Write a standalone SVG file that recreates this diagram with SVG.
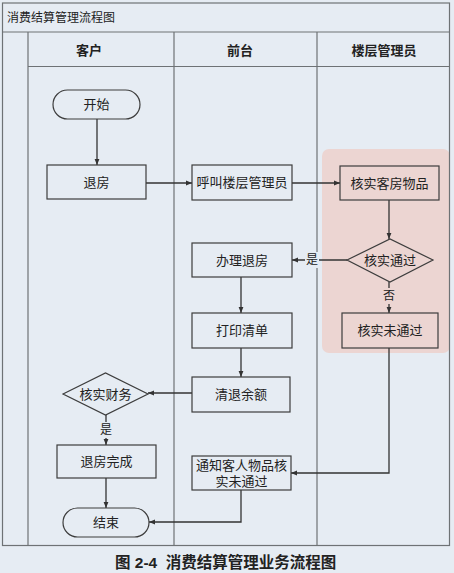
<svg xmlns="http://www.w3.org/2000/svg" width="454" height="573" viewBox="0 0 454 573">
<style>
text{font-family:"Liberation Sans","Noto Sans CJK SC",sans-serif;fill:#222;}
.frame{fill:none;stroke:#6e7275;stroke-width:1.2;}
.box{fill:none;stroke:#3d3d3d;stroke-width:1.2;}
.lbl{font-size:13px;text-anchor:middle;dominant-baseline:central;}
.hdr{font-size:13px;text-anchor:middle;dominant-baseline:central;font-weight:bold;}
.con{fill:none;stroke:#333;stroke-width:1.3;marker-end:url(#ah);}
.yn{font-size:12px;text-anchor:middle;dominant-baseline:central;}
</style>
<defs>
<marker id="ah" viewBox="0 0 10 10" refX="10" refY="5" markerWidth="6" markerHeight="6" markerUnits="userSpaceOnUse" orient="auto">
<path d="M0,1 L10,5 L0,9 z" fill="#333"/>
</marker>
</defs>
<rect x="0" y="0" width="454" height="573" fill="#e6ecf3"/>
<g id="pool">
<rect x="322" y="149" width="128" height="204" rx="7" fill="#ecd5d2"/>
<rect class="frame" x="2.5" y="3" width="447" height="542.5"/>
<line class="frame" x1="2.5" y1="32" x2="449.5" y2="32"/>
<line class="frame" x1="28" y1="32" x2="28" y2="545.5"/>
<line class="frame" x1="28" y1="66.5" x2="449.5" y2="66.5"/>
<line class="frame" x1="174" y1="32" x2="174" y2="545.5"/>
<line class="frame" x1="317" y1="32" x2="317" y2="545.5"/>
<text x="7" y="17.5" style="font-size:12px;dominant-baseline:central;">消费结算管理流程图</text>
<text class="hdr" x="89" y="50">客户</text>
<text class="hdr" x="240" y="50">前台</text>
<text class="hdr" x="384" y="50">楼层管理员</text>
</g>
<g id="connectors">
<line class="con" x1="97" y1="119" x2="97" y2="165"/>
<line class="con" x1="146" y1="183" x2="192" y2="183"/>
<line class="con" x1="292" y1="183" x2="340" y2="183"/>
<line class="con" x1="389" y1="200" x2="389" y2="239"/>
<line class="con" x1="347" y1="260" x2="292" y2="260"/>
<line class="con" x1="389" y1="282" x2="389" y2="313"/>
<line class="con" x1="241" y1="277" x2="241" y2="313"/>
<line class="con" x1="241" y1="348" x2="241" y2="377"/>
<line class="con" x1="192" y1="393" x2="148" y2="393"/>
<line class="con" x1="106" y1="415" x2="106" y2="445"/>
<line class="con" x1="106" y1="478" x2="106" y2="508"/>
<polyline class="con" points="389,348 389,473 291,473"/>
<polyline class="con" points="241,490 241,522 149,522"/>
<rect x="305" y="252" width="14" height="16" fill="#e6ecf3"/>
<text class="yn" x="312" y="260">是</text>
<rect x="382" y="288" width="14" height="16" fill="#ecd5d2"/>
<text class="yn" x="389" y="296">否</text>
<rect x="99" y="422" width="14" height="16" fill="#e6ecf3"/>
<text class="yn" x="106" y="430">是</text>
</g>
<g id="start"><rect class="box" x="53" y="90" width="87" height="29" rx="14.5"/><text class="lbl" x="96.5" y="104.5">开始</text></g>
<g id="checkout"><rect class="box" x="47" y="165" width="99" height="34"/><text class="lbl" x="96.5" y="182">退房</text></g>
<g id="call"><rect class="box" x="192" y="165" width="100" height="35"/><text class="lbl" x="242" y="182.5">呼叫楼层管理员</text></g>
<g id="verify-items"><rect class="box" x="340" y="166" width="99" height="34"/><text class="lbl" x="389.5" y="183">核实客房物品</text></g>
<g id="verify-pass"><polygon class="box" points="347,260 390,239 433,260 390,282"/><text class="lbl" x="390" y="260.5">核实通过</text></g>
<g id="handle"><rect class="box" x="192" y="243" width="100" height="34"/><text class="lbl" x="242" y="260">办理退房</text></g>
<g id="fail"><rect class="box" x="342" y="313" width="96" height="35"/><text class="lbl" x="390" y="330.5">核实未通过</text></g>
<g id="print"><rect class="box" x="192" y="313" width="100" height="35"/><text class="lbl" x="242" y="330.5">打印清单</text></g>
<g id="refund"><rect class="box" x="192" y="377" width="98" height="35"/><text class="lbl" x="241" y="394.5">清退余额</text></g>
<g id="verify-finance"><polygon class="box" points="63,394 105.5,373 148,394 105.5,415"/><text class="lbl" x="105.5" y="394">核实财务</text></g>
<g id="done"><rect class="box" x="57" y="445" width="99" height="33"/><text class="lbl" x="106.5" y="461.5">退房完成</text></g>
<g id="notify"><rect class="box" x="192" y="456" width="99" height="34"/><text class="lbl" x="241.5" y="465">通知客人物品核</text><text class="lbl" x="241.5" y="481">实未通过</text></g>
<g id="end"><rect class="box" x="63" y="508" width="86" height="29" rx="14.5"/><text class="lbl" x="106" y="522.5">结束</text></g>
<text x="115" y="562" style="font-size:15.5px;font-weight:bold;dominant-baseline:central;white-space:pre;">图 2-4  消费结算管理业务流程图</text>
</svg>
